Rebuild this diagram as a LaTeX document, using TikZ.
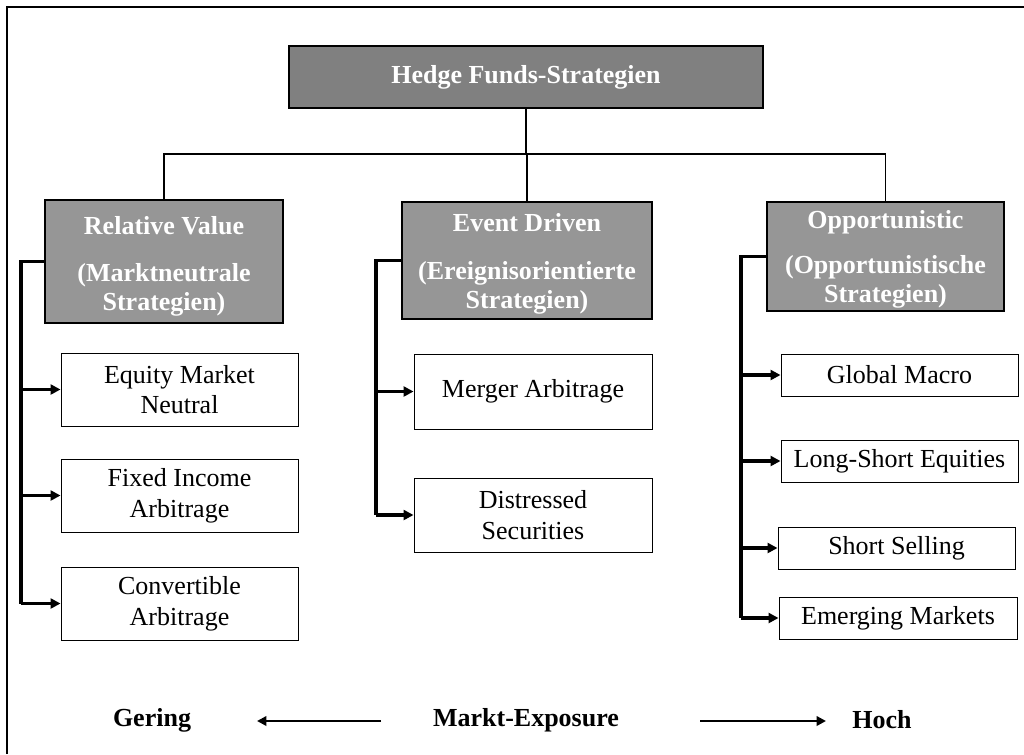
\documentclass[tikz,border=0pt]{standalone}
\usepackage{fontspec}
\setmainfont{Liberation Serif}
\usetikzlibrary{arrows.meta}
\definecolor{titlegray}{HTML}{808080}
\definecolor{groupgray}{HTML}{969696}
\begin{document}
\begin{tikzpicture}[x=0.75pt,y=-0.75pt,
  sz/.style 2 args={minimum width=#1*0.75pt, minimum height=#2*0.75pt, inner sep=0pt},
  titlebox/.style={draw, line width=0.9pt, fill=titlegray, text=white,
    font=\fontsize{19.5}{22}\selectfont\bfseries},
  groupbox/.style={draw, line width=0.9pt, fill=groupgray},
  grouptext/.style={text=white, align=center, inner sep=0pt,
    font=\fontsize{19.5}{21.75}\selectfont\bfseries},
  leafbox/.style={draw, line width=0.75pt, fill=white, align=center,
    font=\fontsize{19.5}{23}\selectfont},
  treeline/.style={line width=1pt},
  bracket/.style={line width=2.6pt},
  brarrow/.style={line width=2.6pt, -{Triangle[length=7.5pt,width=7.5pt]}},
  axisarrow/.style={line width=2.2pt, -{Triangle[length=7pt,width=7pt]}},
  axislabel/.style={font=\fontsize{19.5}{22}\selectfont\bfseries}
]
\useasboundingbox (0,0) rectangle (1024,754);
% outer frame (only top and left edges visible)
\draw[line width=1pt] (7,754) -- (7,7) -- (1024,7);

% title
\node[titlebox, sz={474}{62}] (title) at (526,77) {Hedge Funds-Strategien};

% groups
\node[groupbox, sz={238}{123}] (rv) at (164,261.5) {};
\node[groupbox, sz={250}{117}] (ed) at (527,260.5) {};
\node[groupbox, sz={237}{109}] (opp) at (885.5,256.5) {};
\node[grouptext] (rvt) at ([yshift=-3.75pt]rv.center) {Relative Value\\[14pt](Marktneutrale\\Strategien)};
\node[grouptext] (edt) at ([yshift=-2.6pt]ed.center) {Event Driven\\[14pt](Ereignisorientierte\\Strategien)};
\node[grouptext] (oppt) at ([yshift=-2.3pt]opp.center) {Opportunistic\\[12pt](Opportunistische\\Strategien)};

% tree lines
\coordinate (hb) at (527,154);
\draw[treeline] (title.south) -- (title.south |- hb);
\draw[treeline] (rv.north) -- (rv.north |- hb) -- (opp.north |- hb) -- (opp.north);
\draw[treeline] (ed.north) -- (ed.north |- hb);

% leaves: Relative Value
\node[leafbox, sz={237}{73}] (eq) at (179.5,389.5) {Equity Market\\Neutral};
\node[leafbox, sz={237}{73}] (fi) at (179.5,495.5) {Fixed Income\\Arbitrage};
\node[leafbox, sz={237}{73}] (cv) at (179.5,603.5) {Convertible\\Arbitrage};

% leaves: Event Driven
\node[leafbox, sz={238}{75}] (ma) at (533,391.5) {Merger Arbitrage};
\node[leafbox, sz={238}{74}] (ds) at (533,515) {Distressed\\Securities};

% leaves: Opportunistic
\node[leafbox, sz={237}{42}] (gm) at (899.5,375) {Global Macro};
\node[leafbox, sz={237}{42}] (ls) at (899.5,461) {Long-Short Equities};
\node[leafbox, sz={237}{42}] (ss) at (896.5,548) {Short Selling};
\node[leafbox, sz={238}{42}] (em) at (898,618) {Emerging Markets};

% brackets
\coordinate (rvx) at (21,0);
\coordinate (edx) at (376,0);
\coordinate (oppx) at (741,0);

\draw[bracket] (rv.west) -- (rv.west -| rvx) -- (cv.west -| rvx);
\draw[brarrow] (eq.west -| rvx) -- (eq.west);
\draw[brarrow] (fi.west -| rvx) -- (fi.west);
\draw[brarrow] (cv.west -| rvx) -- (cv.west);

\draw[bracket] (ed.west) -- (ed.west -| edx) -- (ds.west -| edx);
\draw[brarrow] (ma.west -| edx) -- (ma.west);
\draw[brarrow] (ds.west -| edx) -- (ds.west);

\draw[bracket] (opp.west) -- (opp.west -| oppx) -- (em.west -| oppx);
\draw[brarrow] (gm.west -| oppx) -- (gm.west);
\draw[brarrow] (ls.west -| oppx) -- (ls.west);
\draw[brarrow] (ss.west -| oppx) -- (ss.west);
\draw[brarrow] (em.west -| oppx) -- (em.west);

% market exposure axis
\node[axislabel] (gering) at (152,720) {Gering};
\node[axislabel] (markt) at (526,720) {Markt-Exposure};
\node[axislabel] (hoch) at (882,720) {Hoch};
\coordinate (la) at (381,721);
\coordinate (lb) at (257,721);
\coordinate (ra) at (700,721);
\coordinate (rb) at (826,721);
\draw[axisarrow] (la) -- (lb);
\draw[axisarrow] (ra) -- (rb);
\end{tikzpicture}
\end{document}
